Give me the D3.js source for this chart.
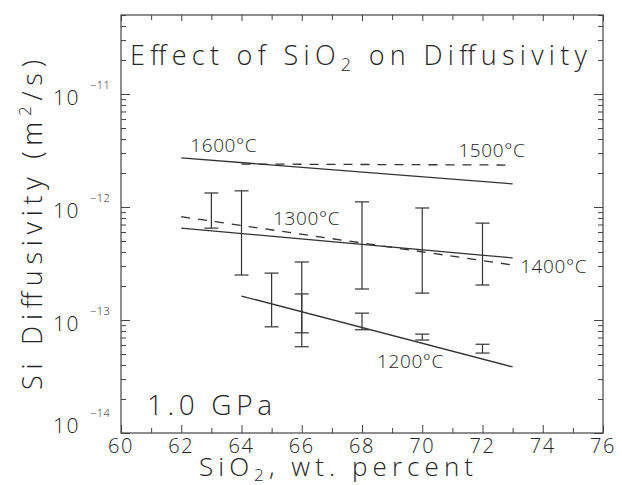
<!DOCTYPE html>
<html>
<head>
<meta charset="utf-8">
<script src="https://cdn.jsdelivr.net/npm/d3@7"></script>
<style>
    body { margin: 0; background: #fff; }
    text { font-family: "Open Sans", "DejaVu Sans", sans-serif; font-weight: 300; fill: #262626; }
    .frame { fill: none; stroke: #444; stroke-width: 1.2; }
    .axis path { display: none; }
    .axis line { stroke: #444; stroke-width: 1; }
    .fit { fill: none; stroke: #333; stroke-width: 1.3; }
    .fit.dashed { stroke-dasharray: 9, 8; }
    .err line { stroke: #333; stroke-width: 1.2; }
</style>
</head>
<body>
<svg id="canvas" width="622" height="485"></svg>
<script>
// Fitted Arrhenius-style lines, one per temperature
const fitNames = ["1600°C", "1500°C", "1400°C", "1300°C", "1200°C"];
const fitDashed = [false, true, false, true, false];
const fitStart = [[62, 2.72e-12], [64, 2.4e-12], [62, 6.5e-13], [62, 8.2e-13], [64, 1.63e-13]];
const fitEnd = [[73, 1.6e-12], [73, 2.35e-12], [73, 3.54e-13], [73, 3.07e-13], [73, 3.84e-14]];
// where each temperature label sits (SiO2, diffusivity at baseline)
const fitLabelAt = [[62.3, 3.07e-12], [71.2, 2.77e-12], [73.25, 2.6e-13], [65.05, 6.9e-13], [68.5, 3.76e-14]];

// Measured ranges (error bars)
const barSiO2 = [63, 64, 65, 66, 66, 68, 68, 70, 70, 72, 72];
const barHigh = [1.33e-12, 1.39e-12, 2.6e-13, 3.26e-13, 1.7e-13, 1.11e-12, 1.15e-13, 9.8e-13, 7.5e-14, 7.2e-13, 6.1e-14];
const barLow = [6.5e-13, 2.5e-13, 8.7e-14, 7.7e-14, 5.8e-14, 1.88e-13, 8.2e-14, 1.73e-13, 6.65e-14, 2.04e-13, 5.1e-14];

// Axes
const xDomain = [60, 76];
const xLabelTicks = [60, 62, 64, 66, 68, 70, 72, 74, 76];
const xMinorTicks = [61, 63, 65, 67, 69, 71, 73, 75];
const yDomain = [1e-14, 5e-11];
const yDecades = [1e-14, 1e-13, 1e-12, 1e-11];
const yExponents = ["\u221214", "\u221213", "\u221212", "\u221211"];

const margin = {left: 121, top: 15, right: 19, bottom: 52};
const width = 622 - margin.left - margin.right;
const height = 485 - margin.top - margin.bottom;

const x = d3.scaleLinear().domain(xDomain).range([0, width]);
const y = d3.scaleLog().domain(yDomain).range([height, 0]);

const yMinorTicks = [];
yDecades.forEach(d => {
    for (let k = 2; k <= 9; k++) {
        if (d * k <= yDomain[1]) yMinorTicks.push(d * k);
    }
});

const svg = d3.select("#canvas");
const g = svg.append("g").attr("transform", `translate(${margin.left},${margin.top})`);

/**
 * Adds inward tick marks along one side of the frame.
 */
function ticks(axisFn, scale, values, size, transform) {
    g.append("g")
        .attr("class", "axis")
        .attr("transform", transform)
        .call(axisFn(scale).tickValues(values).tickSize(-size).tickFormat(""));
}

ticks(d3.axisBottom, x, xLabelTicks, 8, `translate(0,${height})`);
ticks(d3.axisBottom, x, xMinorTicks, 5, `translate(0,${height})`);
ticks(d3.axisTop, x, xLabelTicks, 6, "translate(0,0)");
ticks(d3.axisTop, x, xMinorTicks, 5, "translate(0,0)");
ticks(d3.axisLeft, y, yDecades, 9, "translate(0,0)");
ticks(d3.axisLeft, y, yMinorTicks, 5, "translate(0,0)");
ticks(d3.axisRight, y, yDecades, 9, `translate(${width},0)`);
ticks(d3.axisRight, y, yMinorTicks, 5, `translate(${width},0)`);

g.append("rect")
    .attr("class", "frame")
    .attr("width", width)
    .attr("height", height);

// x tick labels
g.selectAll(".xlab")
    .data(xLabelTicks)
    .enter()
    .append("text")
    .attr("class", "xlab")
    .attr("x", d => x(d))
    .attr("y", height + 20)
    .attr("text-anchor", "middle")
    .style("font-size", "20px")
    .style("letter-spacing", "1.5px")
    .text(d => d);

// y tick labels: 10 with superscript exponent
const ylab = g.selectAll(".ylab")
    .data(yDecades)
    .enter()
    .append("g")
    .attr("class", "ylab")
    .attr("transform", (d, i) => `translate(0,${y(d) + (i === 0 ? 0 : 11)})`);
ylab.append("text")
    .attr("x", -41)
    .attr("text-anchor", "end")
    .style("font-size", "21px")
    .style("letter-spacing", "1.5px")
    .text("10");
ylab.append("text")
    .attr("x", -31)
    .attr("y", -16)
    .style("font-size", "11px")
    .style("letter-spacing", "0.5px")
    .text((d, i) => yExponents[i]);

// fitted lines
g.selectAll(".fit")
    .data(fitNames)
    .enter()
    .append("line")
    .attr("class", (d, i) => fitDashed[i] ? "fit dashed" : "fit")
    .attr("x1", (d, i) => x(fitStart[i][0]))
    .attr("y1", (d, i) => y(fitStart[i][1]))
    .attr("x2", (d, i) => x(fitEnd[i][0]))
    .attr("y2", (d, i) => y(fitEnd[i][1]));

g.selectAll(".fitlab")
    .data(fitNames)
    .enter()
    .append("text")
    .attr("class", "fitlab")
    .attr("x", (d, i) => x(fitLabelAt[i][0]))
    .attr("y", (d, i) => y(fitLabelAt[i][1]))
    .style("font-size", "19px")
    .style("letter-spacing", "0.6px")
    .text(d => d);

// error bars
const cap = 7;
const err = g.selectAll(".err")
    .data(barSiO2)
    .enter()
    .append("g")
    .attr("class", "err");
err.append("line")
    .attr("x1", d => x(d)).attr("x2", d => x(d))
    .attr("y1", (d, i) => y(barHigh[i]))
    .attr("y2", (d, i) => y(barLow[i]));
err.append("line")
    .attr("x1", d => x(d) - cap).attr("x2", d => x(d) + cap)
    .attr("y1", (d, i) => y(barHigh[i]))
    .attr("y2", (d, i) => y(barHigh[i]));
err.append("line")
    .attr("x1", d => x(d) - cap).attr("x2", d => x(d) + cap)
    .attr("y1", (d, i) => y(barLow[i]))
    .attr("y2", (d, i) => y(barLow[i]));

// in-plot titles
const title = g.append("text")
    .attr("x", 9)
    .attr("y", 50)
    .attr("textLength", 457)
    .attr("lengthAdjust", "spacing")
    .style("font-size", "27px");
title.append("tspan").text("Effect of SiO");
title.append("tspan").attr("dy", 6).style("font-size", "18px").text("2");
title.append("tspan").attr("dy", -6).text(" on Diffusivity");

g.append("text")
    .attr("x", 26)
    .attr("y", 400)
    .attr("textLength", 125)
    .attr("lengthAdjust", "spacing")
    .style("font-size", "28px")
    .text("1.0 GPa");

// axis titles
const xt = svg.append("text")
    .attr("x", 199)
    .attr("y", 476)
    .attr("textLength", 274)
    .attr("lengthAdjust", "spacing")
    .style("font-size", "26px");
xt.append("tspan").text("SiO");
xt.append("tspan").attr("dy", 5).style("font-size", "17px").text("2");
xt.append("tspan").attr("dy", -5).text(", wt. percent");

const yt = svg.append("text")
    .attr("transform", "translate(42,390) rotate(-90)")
    .attr("textLength", 330)
    .attr("lengthAdjust", "spacing")
    .style("font-size", "27px");
yt.append("tspan").text("Si Diffusivity (m");
yt.append("tspan").attr("dy", -11).style("font-size", "17px").text("2");
yt.append("tspan").attr("dy", 11).text("/s)");
</script>
</body>
</html>
